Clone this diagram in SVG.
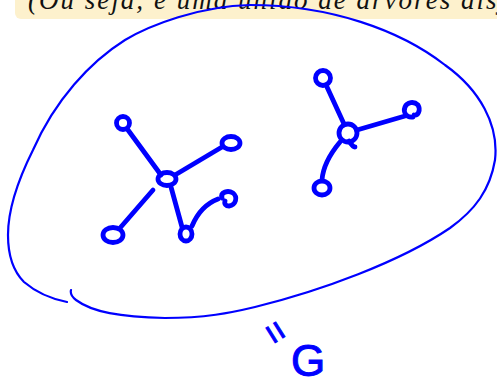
<svg xmlns="http://www.w3.org/2000/svg" width="497" height="380" viewBox="0 0 497 380">
<style>
.note{fill:#fdf1cd;stroke:none}
.notetxt{font-family:"Liberation Serif",serif;font-style:italic;font-size:27px;fill:#111}
.outline{fill:none;stroke:#0000ff;stroke-width:2.2;stroke-linecap:round;stroke-linejoin:round}
.edge{fill:none;stroke:#0000ff;stroke-width:4.8;stroke-linecap:round;stroke-linejoin:round}
.node{fill:none;stroke:#0000ff;stroke-width:4.8;stroke-linecap:round}
.hand{fill:#0000ff;stroke:#0000ff;font-family:"Liberation Sans",sans-serif}
</style>
<rect class="note" x="15" y="-20" width="500" height="39" rx="6"/>
<text class="notetxt" x="28" y="9" textLength="478" lengthAdjust="spacing">(Ou seja, é uma união de árvores disj</text>

<path class="outline" d="M71,290 C70,294 72,297 76,300 C92,312 120,317 165,318 C205,318 230,313 255,307 C320,291 400,262 450,228 C475,210 490,190 495,160 C499,125 480,90 445,65 C400,30 330,5 250,5 C200,6 150,25 125,40 C90,62 55,100 33,150 C18,180 8,210 8,235 C8,255 12,270 24,282 C38,294 52,299 67,302"/>

<g id="connectors">
<path class="edge" d="M128,130 L161,175"/>
<path class="edge" d="M175,175 L222,147"/>
<path class="edge" d="M153,190 L120,228"/>
<path class="edge" d="M171,187 L182,227"/>
<path class="edge" d="M192,226 C197,214 205,204 218,199"/>
<path class="edge" d="M327,87 L344,124"/>
<path class="edge" d="M357,130 L405,116"/>
<path class="edge" d="M340,142 C330,154 323,166 322,180"/>
</g>

<g id="n1"><circle class="node" cx="123" cy="123" r="6.5"/></g>
<g id="n2"><ellipse class="node" cx="167" cy="179" rx="9" ry="6.5"/></g>
<g id="n3"><ellipse class="node" cx="231" cy="143" rx="9" ry="6.5"/></g>
<g id="n4"><ellipse class="node" cx="113" cy="235" rx="10" ry="7.5"/></g>
<g id="n5"><ellipse class="node" cx="186" cy="234" rx="6" ry="7"/></g>
<g id="n6"><path class="node" d="M222,198 C220,192 228,190 233,193 C238,197 236,205 229,206 C226,206 224,204 225,201"/></g>
<g id="m1"><circle class="node" cx="323" cy="78" r="7.5"/></g>
<g id="m2"><ellipse class="node" cx="348" cy="133" rx="9" ry="9"/><path class="node" d="M349,141 C352,146 354,147 355,147"/></g>
<g id="m3"><path class="node" d="M413,117 C406,118 403,112 405,107 C407,102 414,101 418,105 C421,110 418,116 414,115"/></g>
<g id="m4"><ellipse class="node" cx="322" cy="188" rx="8" ry="7"/></g>

<text class="hand" font-size="36" stroke-width="1" transform="translate(276,332) rotate(58)" text-anchor="middle" dominant-baseline="central">=</text>
<text class="hand" x="291" y="376" font-size="44" stroke-width="1">G</text>
</svg>
